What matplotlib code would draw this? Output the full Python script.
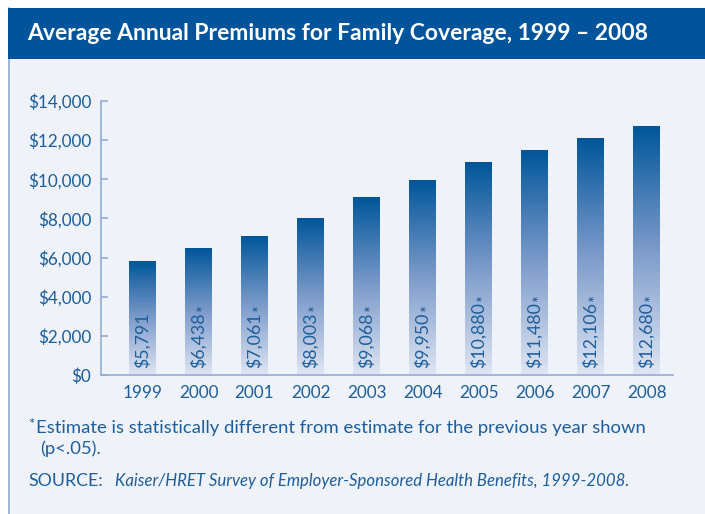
import numpy as np
import matplotlib.pyplot as plt
from matplotlib.colors import LinearSegmentedColormap
from matplotlib.patches import Rectangle

years = ["1999", "2000", "2001", "2002", "2003", "2004", "2005", "2006", "2007", "2008"]
premiums = [5791, 6438, 7061, 8003, 9068, 9950, 10880, 11480, 12106, 12680]
significant = [False, True, True, True, True, True, True, True, True, True]
yticks = [0, 2000, 4000, 6000, 8000, 10000, 12000, 14000]

title = "Average Annual Premiums for Family Coverage, 1999 \u2013 2008"
note = "Estimate is statistically different from estimate for the previous year shown"
source_text = "Kaiser/HRET Survey of Employer-Sponsored Health Benefits, 1999-2008."

plt.rcParams['font.family'] = ['Lato', 'DejaVu Sans']

dark = "#00569a"
text_blue = "#1c5e9c"
panel_bg = "#eff3f9"
line_blue = "#94acd6"

fig = plt.figure(figsize=(7.05, 5.14), dpi=100)
fig.patch.set_facecolor("white")

W, H = 705, 514
# panel background and title band (behind the axes)
fig.patches.append(Rectangle((8 / W, 0), 1 - 8 / W, 1 - 8 / H, transform=fig.transFigure,
                             facecolor=panel_bg, edgecolor="none", zorder=-3))
fig.add_artist(plt.Line2D([8.5 / W, 8.5 / W], [0, 1 - 8 / H], transform=fig.transFigure,
                          color=line_blue, lw=1.2, zorder=-2))
fig.patches.append(Rectangle((8 / W, 1 - 59 / H), 1 - 8 / W, 51 / H, transform=fig.transFigure,
                             facecolor="#00549b", edgecolor="none", zorder=-1))
fig.text(27 / W, 1 - 34 / H, title, color="white", fontsize=16.5, fontweight="bold",
         va="center", ha="left")

ax = fig.add_axes([101 / W, 1 - 375 / H, 572 / W, 274 / H])
ax.set_facecolor("none")
ax.set_zorder(1)

cmap = LinearSegmentedColormap.from_list("barfade", ["#e0e6f2", "#7d9bcb", dark])
grad = np.linspace(0, 1, 256).reshape(-1, 1)
bw = 0.48
x = np.arange(len(years))
for xi, v, sig in zip(x, premiums, significant):
    ax.imshow(grad, cmap=cmap, origin="lower", aspect="auto",
              extent=(xi - bw / 2, xi + bw / 2, 0, v), zorder=2)
    lab = "\\$" + f"{v:,}"
    t = ax.text(xi, 380, lab, rotation=90, ha="center", va="bottom",
                color=text_blue, fontsize=12.8, zorder=3)
    if sig:
        ax.annotate("*", xy=(0.5, 1), xycoords=t, xytext=(4, 0), textcoords="offset points",
                    rotation=90, ha="center", va="bottom", color=text_blue, fontsize=12,
                    zorder=3)

ax.set_xlim(-0.741, 9.47)
ax.set_ylim(0, 14000)
ax.set_xticks(x)
ax.set_xticklabels(years)
ax.set_yticks(yticks)
ax.set_yticklabels(["\\$" + f"{v:,}" for v in yticks])
for s in ["top", "right"]:
    ax.spines[s].set_visible(False)
for s in ["left", "bottom"]:
    ax.spines[s].set_color(line_blue)
    ax.spines[s].set_linewidth(1.2)
ax.tick_params(axis="y", direction="in", length=5, color=line_blue, width=1.2,
               labelsize=12.3, labelcolor=text_blue, pad=7)
ax.tick_params(axis="x", length=0, labelsize=12.3, labelcolor=text_blue, pad=7)

# footnotes
fig.text(28 / W, 1 - 425 / H, "*", color=text_blue, fontsize=11, va="center", ha="left")
fig.text(36 / W, 1 - 428 / H, note, color=text_blue, fontsize=13.3, va="center", ha="left")
fig.text(40 / W, 1 - 449 / H, "(p<.05).", color=text_blue, fontsize=13.3, va="center", ha="left")
s1 = fig.text(28 / W, 1 - 481 / H, "SOURCE:", color=text_blue, fontsize=12.8,
              va="center", ha="left")
fig.canvas.draw()
bb = s1.get_window_extent()
fig.text((bb.x1 + 12) / W, 1 - 481 / H, source_text, color=text_blue, fontsize=12.1,
         style="italic", va="center", ha="left")

fig.savefig("out.png", dpi=100, facecolor="white")
